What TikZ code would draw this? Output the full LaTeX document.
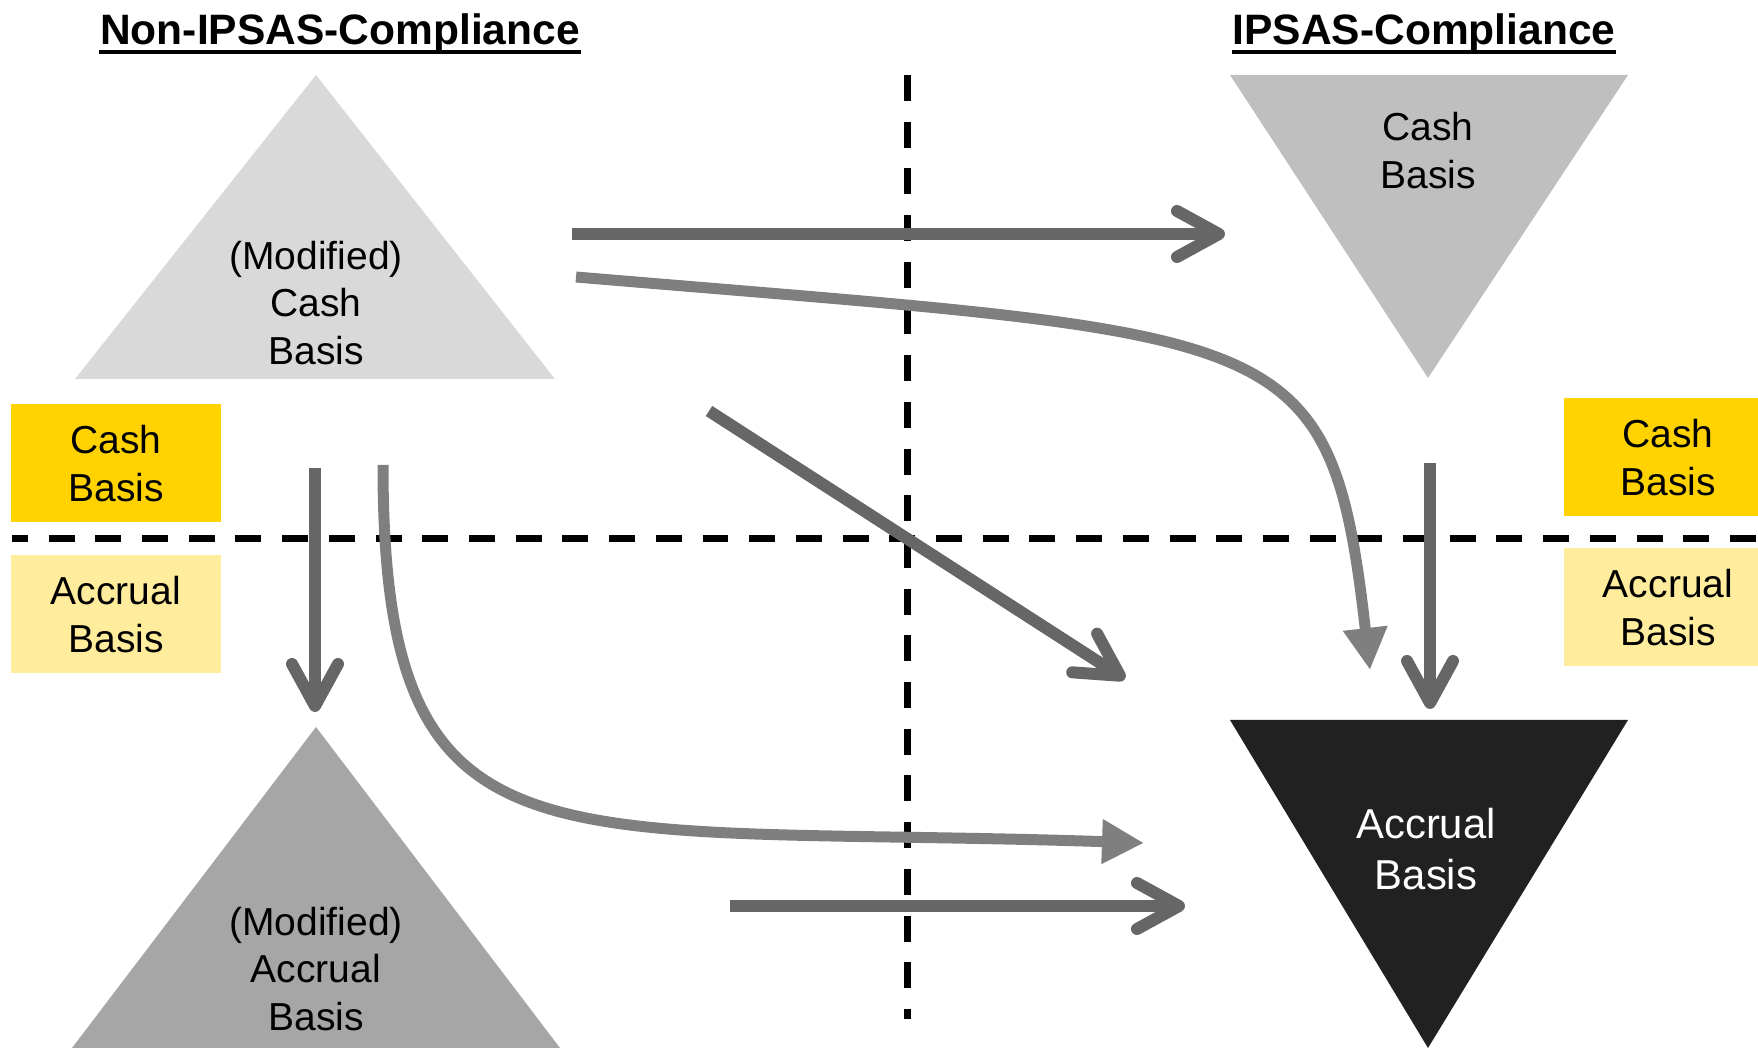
\documentclass[tikz,border=0pt]{standalone}
\usepackage{fontspec}
\setmainfont{Liberation Sans}
\usepackage{tikz}
\usetikzlibrary{positioning, calc}
\usetikzlibrary{arrows.meta}

\definecolor{cashyellow}{HTML}{FFD200}
\definecolor{accyellow}{HTML}{FFEC9C}
\definecolor{arrowgray}{HTML}{666666}
\definecolor{curvegray}{HTML}{7F7F7F}
\definecolor{trilight}{HTML}{D9D9D9}
\definecolor{trimid}{HTML}{BFBFBF}
\definecolor{tridark}{HTML}{A6A6A6}
\definecolor{triblack}{HTML}{212121}

\tikzset{
    txt/.style = {align=center, inner sep=0pt, font=\fontsize{11.1}{13.5}\selectfont},
    ttl/.style = {anchor=base, inner sep=0pt, font=\bfseries\fontsize{12.1}{14}\selectfont},
    lbl/.style = {txt, minimum width=2.1cm, minimum height=1.18cm},
    divider/.style = {line width=0.067cm, dash pattern=on 0.26cm off 0.207cm},
    straightarrow/.style = {draw=arrowgray, line width=0.12cm, -{Straight Barb[length=4.2mm,width=4.6mm,round]}},
    curvedarrow/.style = {draw=curvegray, line width=0.11cm, -{Triangle[length=4.2mm,width=4.2mm]}}
}

\begin{document}
\begin{tikzpicture}
                    \useasboundingbox (0,0) rectangle (17.58,10.48);
                    % titles
                    \node[ttl] (nonipsas) at (3.40,10.03) {Non-IPSAS-Compliance};
                    \node[ttl] (ipsas) at (14.24,10.03) {IPSAS-Compliance};
                    \draw[line width=0.04cm] ([yshift=-0.07cm]nonipsas.base west) -- ([yshift=-0.07cm]nonipsas.base east);
                    \draw[line width=0.04cm] ([yshift=-0.07cm]ipsas.base west) -- ([yshift=-0.07cm]ipsas.base east);
                    % triangles
                    \fill[trilight] (0.75,6.69) -- (5.55,6.69) -- (3.16,9.73) -- cycle;
                    \fill[trimid] (12.30,9.73) -- (16.28,9.73) -- (14.28,6.70) -- cycle;
                    \fill[tridark] (0.72,0) -- (5.60,0) -- (3.16,3.21) -- cycle;
                    \fill[triblack] (12.30,3.28) -- (16.28,3.28) -- (14.28,0) -- cycle;
                    \node[txt] (modcash) at (3.16,7.45) {(Modified)\\Cash\\Basis};
                    \node[txt] (cashtop) at (14.28,8.975) {Cash\\Basis};
                    \node[txt] (modacc) at (3.16,0.79) {(Modified)\\Accrual\\Basis};
                    \node[txt, text=white, font=\fontsize{11.9}{14.5}\selectfont] (accbot) at (14.26,1.99) {Accrual\\Basis};
                    % side labels
                    \node[lbl, fill=cashyellow] (cashL) at (1.16,5.845) {Cash\\Basis};
                    \node[lbl, fill=accyellow] (accL) at (1.16,4.335) {Accrual\\Basis};
                    \node[lbl, fill=cashyellow, minimum width=2.08cm] (cashR) at (16.68,5.905) {Cash\\Basis};
                    \node[lbl, fill=accyellow, minimum width=2.08cm] (accR) at (16.68,4.405) {Accrual\\Basis};
                    % dividers
                    \draw[divider, dash phase=0.10cm] (0.12,5.095) -- (17.58,5.095);
                    \draw[divider] (9.075,9.73) -- (9.075,0.29);
                    % arrow ends
                    \coordinate (a1s) at (5.72,8.14);   \coordinate (a1e) at (12.25,8.14);
                    \coordinate (a3s) at (7.09,6.37);   \coordinate (a3e) at (11.25,3.69);
                    \coordinate (a4s) at (3.15,5.80);   \coordinate (a4e) at (3.15,3.36);
                    \coordinate (a6s) at (7.30,1.42);   \coordinate (a6e) at (11.85,1.42);
                    \coordinate (a7s) at (14.30,5.85);  \coordinate (a7e) at (14.30,3.39);
                    \coordinate (c2s) at (5.76,7.71);   \coordinate (c2e) at (13.70,3.78);
                    \coordinate (c5s) at (3.83,5.83);   \coordinate (c5e) at (11.44,2.05);
                    \draw[straightarrow] (a1s) -- (a1e);
                    \draw[straightarrow] (a3s) -- (a3e);
                    \draw[straightarrow] (a4s) -- (a4e);
                    \draw[straightarrow] (a6s) -- (a6e);
                    \draw[straightarrow] (a7s) -- (a7e);
                    \draw[curvedarrow] (c2s) .. controls +(7.1,-0.6) and +(-0.4,3.5) .. (c2e);
                    \draw[curvedarrow] (c5s) .. controls +(0,-4.2) and +(-6.0,0.2) .. (c5e);
                \end{tikzpicture}
\end{document}
